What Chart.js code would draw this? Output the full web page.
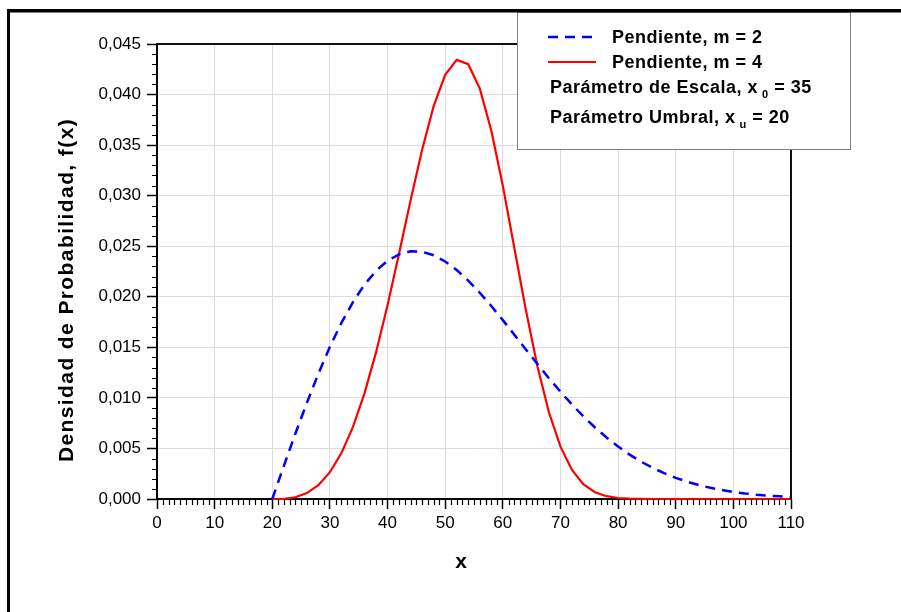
<!DOCTYPE html>
<html>
<head>
<meta charset="utf-8">
<script src="https://cdn.jsdelivr.net/npm/chart.js@4/dist/chart.umd.min.js"></script>
<style>
  html, body { margin: 0; padding: 0; background: #fff; }
  #wrap { width: 901px; height: 612px; position: relative; }
</style>
</head>
<body>
<div id="wrap"><canvas id="weibull-chart" width="901" height="612"></canvas></div>
<script>
// valores (x cada 2 unidades)
const xValues = [20, 22, 24, 26, 28, 30, 32, 34, 36, 38, 40, 42, 44, 46, 48, 50, 52, 54, 56, 58,
  60, 62, 64, 66, 68, 70, 72, 74, 76, 78, 80, 82, 84, 86, 88, 90, 92, 94, 96, 98,
  100, 102, 104, 106, 108, 110];
const densM2 = [0, 0.00326, 0.00645, 0.00951, 0.01240, 0.01505, 0.01742, 0.01948, 0.02120, 0.02256,
  0.02356, 0.02420, 0.02449, 0.02445, 0.02411, 0.02349, 0.02265, 0.02160, 0.02040, 0.01909,
  0.01769, 0.01625, 0.01479, 0.01335, 0.01195, 0.01061, 0.00934, 0.00816, 0.00707, 0.00608,
  0.00519, 0.00439, 0.00369, 0.00308, 0.00255, 0.00209, 0.00171, 0.00138, 0.00111, 0.00089,
  0.00070, 0.00055, 0.00043, 0.00034, 0.00026, 0.00020];
const densM4 = [0, 0.00002, 0.00017, 0.00058, 0.00136, 0.00265, 0.00454, 0.00713, 0.01045, 0.01450,
  0.01917, 0.02428, 0.02954, 0.03455, 0.03885, 0.04195, 0.04343, 0.04300, 0.04061, 0.03645,
  0.03099, 0.02483, 0.01869, 0.01313, 0.00858, 0.00518, 0.00287, 0.00145, 0.00067, 0.00028,
  0.00010, 0.00003, 0.00001, 0, 0, 0, 0, 0, 0, 0,
  0, 0, 0, 0, 0, 0];
const seriesLabels = ['Pendiente, m = 2', 'Pendiente, m = 4'];
const xTicks = [0, 10, 20, 30, 40, 50, 60, 70, 80, 90, 100, 110];
const yTicks = [0, 0.005, 0.010, 0.015, 0.020, 0.025, 0.030, 0.035, 0.040, 0.045];

const FONT = '"Liberation Sans", Arial, sans-serif';
Chart.defaults.font.family = FONT;
Chart.defaults.font.size = 17;
Chart.defaults.color = '#000';

const toPoints = (ys) => xValues.map((x, i) => ({ x: x, y: ys[i] }));

// marco exterior, marco del area, ticks menores, titulos y leyenda
const decorations = {
  id: 'decorations',
  beforeDraw(chart) {
    const ctx = chart.ctx;
    ctx.save();
    ctx.fillStyle = '#fff';
    ctx.fillRect(0, 0, chart.width, chart.height);
    ctx.restore();
  },
  afterDraw(chart) {
    const ctx = chart.ctx;
    const area = chart.chartArea;
    const xs = chart.scales.x;
    const ys = chart.scales.y;
    ctx.save();

    // top + right edge of plot
    ctx.strokeStyle = '#111';
    ctx.lineWidth = 2;
    ctx.beginPath();
    ctx.moveTo(area.left, area.top);
    ctx.lineTo(area.right, area.top);
    ctx.lineTo(area.right, area.bottom);
    ctx.stroke();

    // minor ticks
    ctx.strokeStyle = '#000';
    ctx.lineWidth = 1.2;
    ctx.beginPath();
    for (let v = 0; v <= 110; v++) {
      if (v % 10 === 0) continue;
      const px = Math.round(xs.getPixelForValue(v)) + 0.5;
      ctx.moveTo(px, area.bottom);
      ctx.lineTo(px, area.bottom + 6);
    }
    for (let k = 0; k <= 45; k++) {
      if (k % 5 === 0) continue;
      const py = Math.round(ys.getPixelForValue(k / 1000)) + 0.5;
      ctx.moveTo(area.left - 5, py);
      ctx.lineTo(area.left, py);
    }
    ctx.stroke();

    // axis titles
    ctx.fillStyle = '#000';
    ctx.font = 'bold 21px ' + FONT;
    ctx.textAlign = 'center';
    ctx.textBaseline = 'middle';
    ctx.fillText('x', 461, 562);
    ctx.save();
    ctx.translate(67, 290);
    ctx.rotate(-Math.PI / 2);
    ctx.letterSpacing = '1.4px';
    ctx.fillText('Densidad de Probabilidad, f(x)', 0, 0);
    ctx.restore();

    // legend box
    ctx.fillStyle = '#fff';
    ctx.fillRect(517, 12, 333, 137);
    ctx.strokeStyle = '#808080';
    ctx.lineWidth = 1;
    ctx.strokeRect(517.5, 12.5, 333, 137);

    const dsets = chart.data.datasets;
    ctx.lineWidth = 2.5;
    ctx.strokeStyle = dsets[0].borderColor;
    ctx.setLineDash(dsets[0].borderDash);
    ctx.beginPath();
    ctx.moveTo(548, 37);
    ctx.lineTo(596, 37);
    ctx.stroke();
    ctx.setLineDash([]);
    ctx.lineWidth = 2.2;
    ctx.strokeStyle = dsets[1].borderColor;
    ctx.beginPath();
    ctx.moveTo(548, 62);
    ctx.lineTo(596, 62);
    ctx.stroke();

    ctx.fillStyle = '#000';
    ctx.textAlign = 'left';
    ctx.textBaseline = 'alphabetic';
    ctx.letterSpacing = '0.5px';
    ctx.font = 'bold 18px ' + FONT;
    ctx.fillText(dsets[0].label, 612, 43);
    ctx.fillText(dsets[1].label, 612, 68);

    const subLine = (pre, sub, post, x, y) => {
      ctx.font = 'bold 18px ' + FONT;
      ctx.fillText(pre, x, y);
      let cx = x + ctx.measureText(pre).width + 4;
      ctx.font = 'bold 11px ' + FONT;
      ctx.fillText(sub, cx, y + 5);
      cx += ctx.measureText(sub).width;
      ctx.font = 'bold 18px ' + FONT;
      ctx.fillText(post, cx, y);
    };
    subLine('Parámetro de Escala, x', '0', ' = 35', 550, 93);
    subLine('Parámetro Umbral, x', 'u', ' = 20', 550, 123);
    ctx.letterSpacing = '0px';

    // outer frame
    ctx.fillStyle = '#000';
    ctx.fillRect(7, 9, 894, 3.5);
    ctx.fillRect(7, 9, 3, 603);
    ctx.restore();
  }
};

new Chart(document.getElementById('weibull-chart').getContext('2d'), {
  type: 'line',
  data: {
    datasets: [
      {
        label: seriesLabels[0],
        data: toPoints(densM2),
        borderColor: '#0000ff',
        borderWidth: 2.5,
        borderDash: [10, 7],
        pointRadius: 0,
        tension: 0,
        fill: false,
        clip: false,
      },
      {
        label: seriesLabels[1],
        data: toPoints(densM4),
        borderColor: '#ff0000',
        borderWidth: 2.2,
        pointRadius: 0,
        tension: 0,
        fill: false,
        clip: false,
      },
    ],
  },
  options: {
    responsive: false,
    animation: false,
    layout: { padding: { left: 0, top: 44, right: 110, bottom: 0 } },
    plugins: { legend: { display: false }, tooltip: { enabled: false } },
    scales: {
      x: {
        type: 'linear',
        min: 0,
        max: 110,
        afterFit: (scale) => { scale.height = 113; },
        afterBuildTicks: (scale) => { scale.ticks = xTicks.map((v) => ({ value: v })); },
        ticks: { padding: 4, font: { size: 17 } },
        grid: { color: '#dcdcdc', lineWidth: 1, tickColor: '#000', tickLength: 10, tickWidth: 1.5 },
        border: { color: '#000', width: 2 },
      },
      y: {
        min: 0,
        max: 0.045,
        afterFit: (scale) => { scale.width = 157; },
        afterBuildTicks: (scale) => { scale.ticks = yTicks.map((v) => ({ value: v })); },
        ticks: {
          padding: 6,
          font: { size: 17 },
          callback: (v) => Number(v).toFixed(3).replace('.', ','),
        },
        grid: { color: '#dcdcdc', lineWidth: 1, tickColor: '#000', tickLength: 10, tickWidth: 1.5 },
        border: { color: '#000', width: 2 },
      },
    },
  },
  plugins: [decorations],
});
</script>
</body>
</html>
